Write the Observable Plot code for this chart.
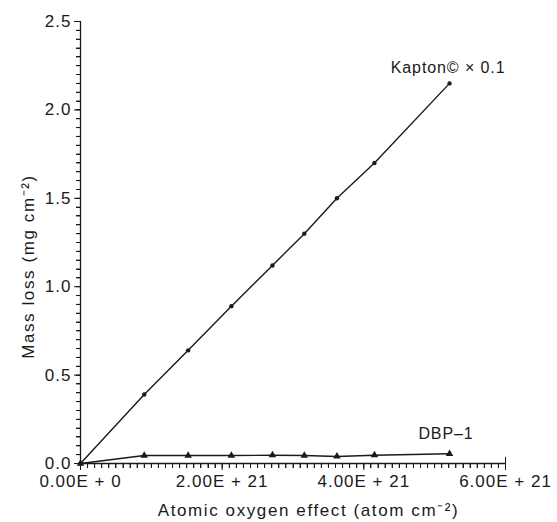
<!DOCTYPE html>
<html>
<head>
<meta charset="utf-8">
<script src="https://cdn.jsdelivr.net/npm/d3@7"></script>
<script src="https://cdn.jsdelivr.net/npm/@observablehq/plot@0.6"></script>
<style>
  html, body { margin: 0; padding: 0; background: #fff; overflow: hidden; }
  svg { display: block; }
  svg [aria-label="x-axis tick label"] text, svg [aria-label="y-axis tick label"] text { letter-spacing: 1px; }
  svg text.ttl { letter-spacing: 1.6px; }
</style>
</head>
<body>
<div id="chart"></div>
<script>
// Atomic oxygen fluence (atom cm^-2)
const fluence = [0, 0.90e21, 1.52e21, 2.13e21, 2.71e21, 3.16e21, 3.62e21, 4.15e21, 5.21e21];
// Mass loss (mg cm^-2)
const kapton = [0, 0.39, 0.64, 0.89, 1.12, 1.30, 1.50, 1.70, 2.15];
const dbp1   = [0, 0.045, 0.045, 0.045, 0.047, 0.045, 0.040, 0.047, 0.055];
const yTickValues = [0, 0.5, 1.0, 1.5, 2.0, 2.5];
const xTickValues = [0, 2e21, 4e21, 6e21];
const xTickLabels = ["0.00E + 0", "2.00E + 21", "4.00E + 21", "6.00E + 21"];
const seriesLabels = ["Kapton\u00A9 \u00D7 0.1", "DBP\u20131"];
const xTitle = "Atomic oxygen effect (atom cm\u207B\u00B2)";
const yTitle = "Mass loss (mg cm\u207B\u00B2)";

const kaptonData = fluence.map((x, i) => ({x, y: kapton[i]}));
const dbpData = fluence.map((x, i) => ({x, y: dbp1[i]}));

const xMinor = d3.range(0, 61).map(i => i * 1e20);
const yMinor = d3.range(0, 51).map(i => i * 0.05);

const W = 557, H = 522, ML = 80, MR = 52, MT = 21, MB = 59;
const xPx = (W - ML - MR) / 6e21;   // pixels per unit x
const yPx = (H - MT - MB) / 2.5;    // pixels per unit y

const ink = "#1a1a1a";
const chart = Plot.plot({
  width: W,
  height: H,
  marginLeft: ML,
  marginRight: MR,
  marginTop: MT,
  marginBottom: MB,
  style: {fontFamily: "'Liberation Sans', Arial, sans-serif", fontSize: "17px", color: ink, background: "#fff"},
  x: {domain: [0, 6e21], axis: null},
  y: {domain: [0, 2.5], axis: null},
  marks: [
    Plot.axisX({ticks: xTickValues, tickSize: 7, tickPadding: 4,
      tickFormat: d => xTickLabels[xTickValues.indexOf(d)],
      label: null, fontSize: 17, stroke: ink, fill: ink}),
    Plot.axisY({ticks: yTickValues, tickSize: 6, tickPadding: 3,
      tickFormat: d => d.toFixed(1),
      label: null, fontSize: 17, stroke: ink, fill: ink}),
    Plot.text([xTitle], {x: (308 - ML) / xPx, y: -(510 - (H - MB)) / yPx, text: d => d, fontSize: 17, fill: ink}),
    Plot.text([yTitle], {x: (28 - ML) / xPx, y: ((H - MB) - 266) / yPx, text: d => d, rotate: -90, fontSize: 17, fill: ink}),
    Plot.line(kaptonData, {x: "x", y: "y", stroke: ink, strokeWidth: 1.4}),
    Plot.dot(kaptonData, {x: "x", y: "y", r: 2.2, fill: ink, stroke: "none"}),
    Plot.line(dbpData, {x: "x", y: "y", stroke: ink, strokeWidth: 1.4}),
    Plot.dot(dbpData, {x: "x", y: "y", symbol: "triangle", r: 2.8, fill: ink, stroke: "none"}),
    Plot.text([seriesLabels[0]], {x: 4.38e21, y: 2.24, text: d => d, textAnchor: "start", fontSize: 16, fill: ink}),
    Plot.text([seriesLabels[1]], {x: 4.77e21, y: 0.17, text: d => d, textAnchor: "start", fontSize: 16, fill: ink}),
    // axis lines and minor ticks (outward)
    Plot.ruleY([0], {x1: 0, x2: 6e21, stroke: ink, strokeWidth: 1.3}),
    Plot.ruleX([0], {y1: 0, y2: 2.5, stroke: ink, strokeWidth: 1.3}),
    Plot.ruleX(xMinor, {x: d => d, y1: 0, y2: -5 / yPx, stroke: ink, strokeWidth: 1}),
    Plot.ruleY(yMinor, {y: d => d, x1: 0, x2: -4 / xPx, stroke: ink, strokeWidth: 1}),
    Plot.ruleX([6e21], {y1: 0, y2: 6 / yPx, stroke: ink, strokeWidth: 1})
  ]
});
// title letter spacing
chart.querySelectorAll("text").forEach(t => {
  if (t.textContent === xTitle || t.textContent === yTitle) t.setAttribute("class", "ttl");
  if (t.textContent === seriesLabels[0] || t.textContent === seriesLabels[1]) t.style.letterSpacing = "0.9px";
});
// reinforce minor ticks using Plot's own scales
const sx = chart.scale("x"), sy = chart.scale("y");
const x0 = sx.apply(0), y0 = sy.apply(0);
const g = d3.select(chart).append("g").attr("stroke", ink).attr("stroke-width", 1);
xMinor.forEach(v => {
  const px = Math.round(sx.apply(v)) + 0.5;
  g.append("line").attr("x1", px).attr("x2", px).attr("y1", y0).attr("y2", y0 + 5);
});
yMinor.forEach(v => {
  const py = Math.round(sy.apply(v)) + 0.5;
  g.append("line").attr("x1", x0).attr("x2", x0 - 4).attr("y1", py).attr("y2", py);
});
document.getElementById("chart").appendChild(chart);
</script>
</body>
</html>
